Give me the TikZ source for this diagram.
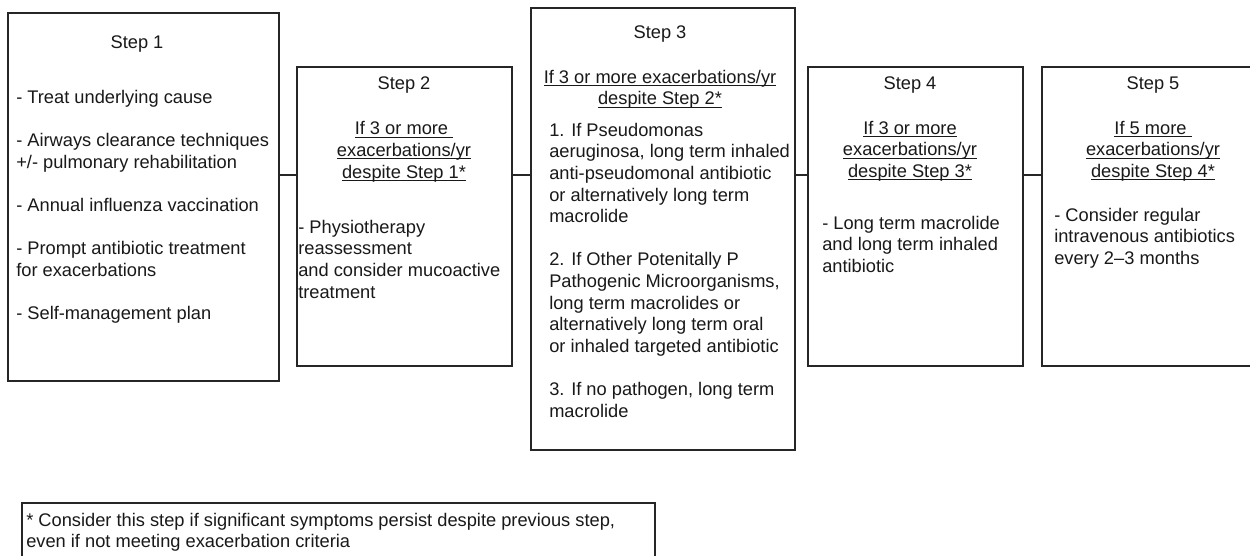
\documentclass[tikz,border=0pt]{standalone}
\usepackage{fontspec}
\setmainfont{Liberation Sans}
\usetikzlibrary{fit}
\newcommand{\stepfont}{\fontsize{13.7pt}{16.2pt}\selectfont}
\newcommand{\cond}[1]{\underline{\smash{#1}}}

\begin{document}
\begin{tikzpicture}
[x=0.75pt,y=-0.75pt,%
  stepBox/.style={draw=black!85,line width=0.8pt,inner sep=0pt},%
  headText/.style={anchor=north,align=center,inner sep=0pt,font=\stepfont,text=black!90},%
  bodyText/.style={anchor=north west,align=left,inner sep=0pt,font=\stepfont,text=black!90},%
  linkLine/.style={draw=black!85,line width=0.8pt}]
\useasboundingbox (0,0) rectangle (1250,556);
\clip (0,0) rectangle (1250,556);
\fill[white] (0,0) rectangle (1250,556);
%% boxes
\foreach \nodename/\xa/\ya/\xb/\yb in {s1/8/13/279/381, s2/297/67/512/366,
  s3/531/8/795/450, s4/808/67/1023/366, s5/1042/67/1262/366, note/22/503/655/600}
{
  \node[stepBox,fit={(\xa,\ya) (\xb,\yb)}] (\nodename) {};
}
%% headings
\node[headText] (h1) at (137,33) {\strut Step 1};
\node[headText] (h2) at (404,74) {\strut Step 2\\[18pt]\cond{If 3 or more\ }\\\cond{exacerbations/yr}\\\cond{despite Step 1*}};
\node[headText] (h3) at (660,23) {\strut Step 3\\[17.5pt]\cond{If 3 or more exacerbations/yr}\\\cond{despite Step 2*}};
\node[headText] (h4) at (910,74) {\strut Step 4\\[17.5pt]\cond{If 3 or more}\\\cond{exacerbations/yr}\\\cond{despite Step 3*}};
\node[headText] (h5) at (1153,74) {\strut Step 5\\[17.5pt]\cond{If 5 more\ }\\\cond{exacerbations/yr}\\\cond{despite Step 4*}};
%% body texts
\node[bodyText] (b1) at (16,88) {\strut- Treat underlying cause\\[\baselineskip]- Airways clearance techniques\\+/- pulmonary rehabilitation\\[\baselineskip]- Annual influenza vaccination\\[\baselineskip]- Prompt antibiotic treatment\\for exacerbations\\[\baselineskip]- Self-management plan};
\node[bodyText] (b2) at (298,218) {\strut- Physiotherapy\\reassessment\\and consider mucoactive\\treatment};
\node[bodyText] (b3) at (549,121) {\strut 1. If Pseudomonas\\aeruginosa, long term inhaled\\anti-pseudomonal antibiotic\\or alternatively long term\\macrolide\\[\baselineskip]2. If Other Potenitally P\\Pathogenic Microorganisms,\\long term macrolides or\\alternatively long term oral\\or inhaled targeted antibiotic\\[\baselineskip]3. If no pathogen, long term\\macrolide};
\node[bodyText] (b4) at (822,214) {\strut- Long term macrolide\\and long term inhaled\\antibiotic};
\node[bodyText] (b5) at (1054,206) {\strut- Consider regular\\intravenous antibiotics\\every 2--3 months};
\node[bodyText] (b6) at (26,511) {\strut* Consider this step if significant symptoms persist despite previous step,\\even if not meeting exacerbation criteria};
%% links between steps
\coordinate (link) at (0,175);
\path
\foreach \startnode/\endnode in {s1/s2, s2/s3, s3/s4, s4/s5}
{
  (\startnode.east |- link) edge[linkLine] (\endnode.west |- link)
};
\end{tikzpicture}
\end{document}
